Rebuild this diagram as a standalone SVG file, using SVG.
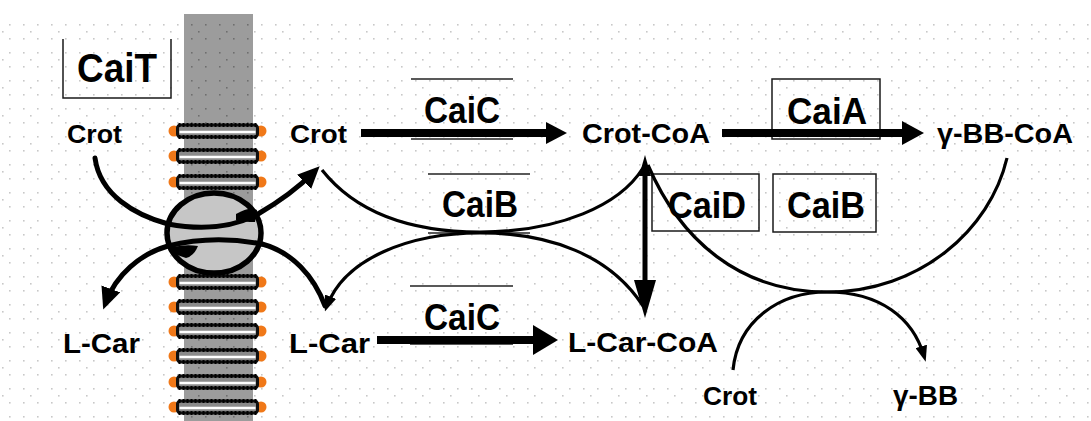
<svg xmlns="http://www.w3.org/2000/svg" width="1091" height="421" viewBox="0 0 1091 421">
  <defs>
    <style>
      .sm { font-family: "Liberation Sans", Arial, sans-serif; font-weight: bold; fill: #000; }
      .enz { font-family: "Liberation Sans", Arial, sans-serif; font-weight: bold; font-size: 36px; fill: #000; }
      .box { fill: none; stroke: #1a1a1a; stroke-width: 1.5; }
      .rule { stroke: #222; stroke-width: 1.6; }
      .thick { fill: none; stroke: #000; stroke-width: 5; stroke-linecap: round; }
      .arc { fill: none; stroke: #000; stroke-width: 3.2; }
      .shaft { stroke: #000; stroke-width: 8; }
    </style>
    <!-- paper dot grid -->
    <pattern id="dots" width="28" height="28" patternUnits="userSpaceOnUse">
      <g fill="#c8c8c8">
        <rect x="9" y="10" width="1.6" height="1.6"/>
        <rect x="23" y="10" width="1.6" height="1.6"/>
        <rect x="9" y="24" width="1.6" height="1.6"/>
        <rect x="23" y="24" width="1.6" height="1.6"/>
        <rect x="2" y="3" width="1.6" height="1.6"/>
      </g>
    </pattern>
    <pattern id="ddots" width="28" height="28" patternUnits="userSpaceOnUse">
      <g fill="#6e6e6e">
        <rect x="9" y="10" width="1.6" height="1.6"/>
        <rect x="23" y="10" width="1.6" height="1.6"/>
        <rect x="9" y="24" width="1.6" height="1.6"/>
        <rect x="23" y="24" width="1.6" height="1.6"/>
        <rect x="2" y="3" width="1.6" height="1.6"/>
      </g>
    </pattern>
    <!-- one phospholipid pair in the membrane -->
    <g id="lipid">
      <circle cx="-43.5" cy="0" r="5.5" fill="#f07818"/>
      <circle cx="43.5" cy="0" r="5.5" fill="#f07818"/>
      <rect x="-40" y="-6" width="80" height="12" rx="3" fill="#8a8a8a" stroke="#111" stroke-width="3"/>
      <line x1="-39" y1="-6" x2="39" y2="-6" stroke="#000" stroke-width="4" stroke-dasharray="2 2"/>
      <line x1="-39" y1="6" x2="39" y2="6" stroke="#000" stroke-width="4" stroke-dasharray="2 2"/>
      <line x1="-38" y1="1" x2="38" y2="1" stroke="#fff" stroke-width="2.5"/>
    </g>
    <marker id="headBig" markerUnits="userSpaceOnUse" markerWidth="22" markerHeight="20" viewBox="0 0 22 20" refX="14" refY="10" orient="auto">
      <path d="M0 0 L22 10 L0 20 Z" fill="#000"/>
    </marker>
    <marker id="headSm" markerUnits="userSpaceOnUse" markerWidth="16" markerHeight="12" viewBox="0 0 16 12" refX="10" refY="6" orient="auto">
      <path d="M0 0 L16 6 L0 12 Z" fill="#000"/>
    </marker>
  </defs>

  <rect width="1091" height="421" fill="#fff"/>
  <rect x="0" y="17" width="1091" height="404" fill="url(#dots)"/>

  <!-- membrane -->
  <g id="membrane">
    <rect x="184" y="14" width="69" height="407" fill="#9c9c9c"/>
    <rect x="184" y="14" width="69" height="407" fill="url(#ddots)"/>
    <use href="#lipid" x="217.5" y="131"/>
    <use href="#lipid" x="217.5" y="156"/>
    <use href="#lipid" x="217.5" y="182"/>
    <use href="#lipid" x="217.5" y="282"/>
    <use href="#lipid" x="217.5" y="307"/>
    <use href="#lipid" x="217.5" y="331"/>
    <use href="#lipid" x="217.5" y="356"/>
    <use href="#lipid" x="217.5" y="382"/>
    <use href="#lipid" x="217.5" y="407"/>
  </g>

  <!-- CaiT transporter -->
  <g id="transporter">
    <ellipse cx="214" cy="233" rx="47" ry="40" fill="#c6c6c6" stroke="#000" stroke-width="5.5"/>
    <path d="M236 214 Q250 206 257 210 L255 222 Q244 222 236 220 Z" fill="#000"/>
    <path d="M173 247 Q186 244 198 246 Q194 256 186 258 Q178 256 173 252 Z" fill="#000"/>
  </g>

  <g id="CaiT">
    <path class="box" d="M63 39 V98 H171 V39"/>
    <text class="enz" x="77" y="82" style="font-size:40px" textLength="80" lengthAdjust="spacingAndGlyphs">CaiT</text>
  </g>

  <!-- metabolites -->
  <g id="crot-out"><text class="sm" x="67" y="143" font-size="25" textLength="55" lengthAdjust="spacingAndGlyphs">Crot</text></g>
  <g id="crot-in"><text class="sm" x="290" y="143" font-size="25" textLength="57" lengthAdjust="spacingAndGlyphs">Crot</text></g>
  <g id="lcar-out"><text class="sm" x="63" y="353" font-size="28" textLength="77" lengthAdjust="spacingAndGlyphs">L-Car</text></g>
  <g id="lcar-in"><text class="sm" x="289" y="353" font-size="28" textLength="81" lengthAdjust="spacingAndGlyphs">L-Car</text></g>
  <g id="crot-coa"><text class="sm" x="582" y="143" font-size="27" textLength="128" lengthAdjust="spacingAndGlyphs">Crot-CoA</text></g>
  <g id="lcar-coa"><text class="sm" x="568" y="352" font-size="28" textLength="150" lengthAdjust="spacingAndGlyphs">L-Car-CoA</text></g>
  <g id="gbb-coa"><text class="sm" x="937" y="143" font-size="27" textLength="136" lengthAdjust="spacingAndGlyphs">γ-BB-CoA</text></g>
  <g id="crot-2"><text class="sm" x="703" y="405" font-size="25" textLength="54" lengthAdjust="spacingAndGlyphs">Crot</text></g>
  <g id="gbb"><text class="sm" x="893" y="405" font-size="27" textLength="65" lengthAdjust="spacingAndGlyphs">γ-BB</text></g>

  <!-- enzyme labels -->
  <g id="CaiC-top">
    <line class="rule" x1="411" y1="79" x2="513" y2="79"/>
    <line class="rule" x1="411" y1="139" x2="513" y2="139"/>
    <text class="enz" x="424" y="123" textLength="76" lengthAdjust="spacingAndGlyphs">CaiC</text>
  </g>
  <g id="CaiB-left">
    <line class="rule" x1="428" y1="174" x2="530" y2="174"/>
    <line class="rule" x1="428" y1="233" x2="530" y2="233"/>
    <text class="enz" x="442" y="217" textLength="76" lengthAdjust="spacingAndGlyphs">CaiB</text>
  </g>
  <g id="CaiC-bottom">
    <line class="rule" x1="410" y1="286" x2="513" y2="286"/>
    <line class="rule" x1="410" y1="344" x2="513" y2="344"/>
    <text class="enz" x="424" y="330" textLength="76" lengthAdjust="spacingAndGlyphs">CaiC</text>
  </g>
  <g id="CaiA">
    <rect class="box" x="772" y="79" width="108" height="60"/>
    <text class="enz" x="787" y="124" textLength="80" lengthAdjust="spacingAndGlyphs">CaiA</text>
  </g>
  <g id="CaiD">
    <rect class="box" x="652" y="174" width="107" height="57"/>
    <text class="enz" x="668" y="218" textLength="78" lengthAdjust="spacingAndGlyphs">CaiD</text>
  </g>
  <g id="CaiB-right">
    <rect class="box" x="773" y="174" width="103" height="58"/>
    <text class="enz" x="787" y="218" textLength="78" lengthAdjust="spacingAndGlyphs">CaiB</text>
  </g>

  <!-- connectors -->
  <g id="connectors">
    <!-- Crot carried inward through CaiT -->
    <path class="thick" d="M95 158 C100 195 135 215 168 224 C200 230 232 228 258 214 C282 200 300 186 314 172" marker-end="url(#headBig)"/>
    <!-- L-Car carried outward through CaiT -->
    <path class="thick" d="M262 244 C230 238 200 238 168 246 C140 254 116 275 106 302" marker-end="url(#headBig)"/>
    <path class="thick" d="M262 244 C292 252 314 276 325 306"/>

    <!-- CaiB exchange arcs -->
    <path class="arc" d="M322 170 C360 218 420 232 480 232 C560 232 620 205 643 168"/>
    <path class="arc" d="M643 306 C610 255 550 233 480 233 C410 233 345 258 327 306" marker-end="url(#headSm)"/>

    <!-- Crot-CoA <-> L-Car-CoA -->
    <line x1="645" y1="172" x2="645" y2="284" stroke="#000" stroke-width="5"/>
    <polygon points="639,176 651,176 645,155" fill="#000"/>
    <polygon points="634,280 656,280 645,318" fill="#000"/>

    <!-- CaiC: Crot -> Crot-CoA -->
    <line class="shaft" x1="361" y1="133" x2="550" y2="133"/>
    <polygon points="546,122 567,133 546,144" fill="#000"/>
    <!-- CaiA: Crot-CoA -> gamma-BB-CoA -->
    <line class="shaft" x1="722" y1="133" x2="906" y2="133"/>
    <polygon points="902,121 924,133 902,145" fill="#000"/>
    <!-- CaiC: L-Car -> L-Car-CoA -->
    <line class="shaft" x1="377" y1="340" x2="538" y2="340"/>
    <polygon points="533,325 558,340 533,355" fill="#000"/>

    <!-- CaiB: gamma-BB-CoA + Crot -> Crot-CoA + gamma-BB -->
    <path class="arc" d="M648 165 C680 240 740 292 827 292 C920 292 990 230 1007 158"/>
    <path class="arc" d="M733 370 C738 320 780 292 827 292 C880 292 913 318 924 356" marker-end="url(#headSm)"/>
  </g>
</svg>
